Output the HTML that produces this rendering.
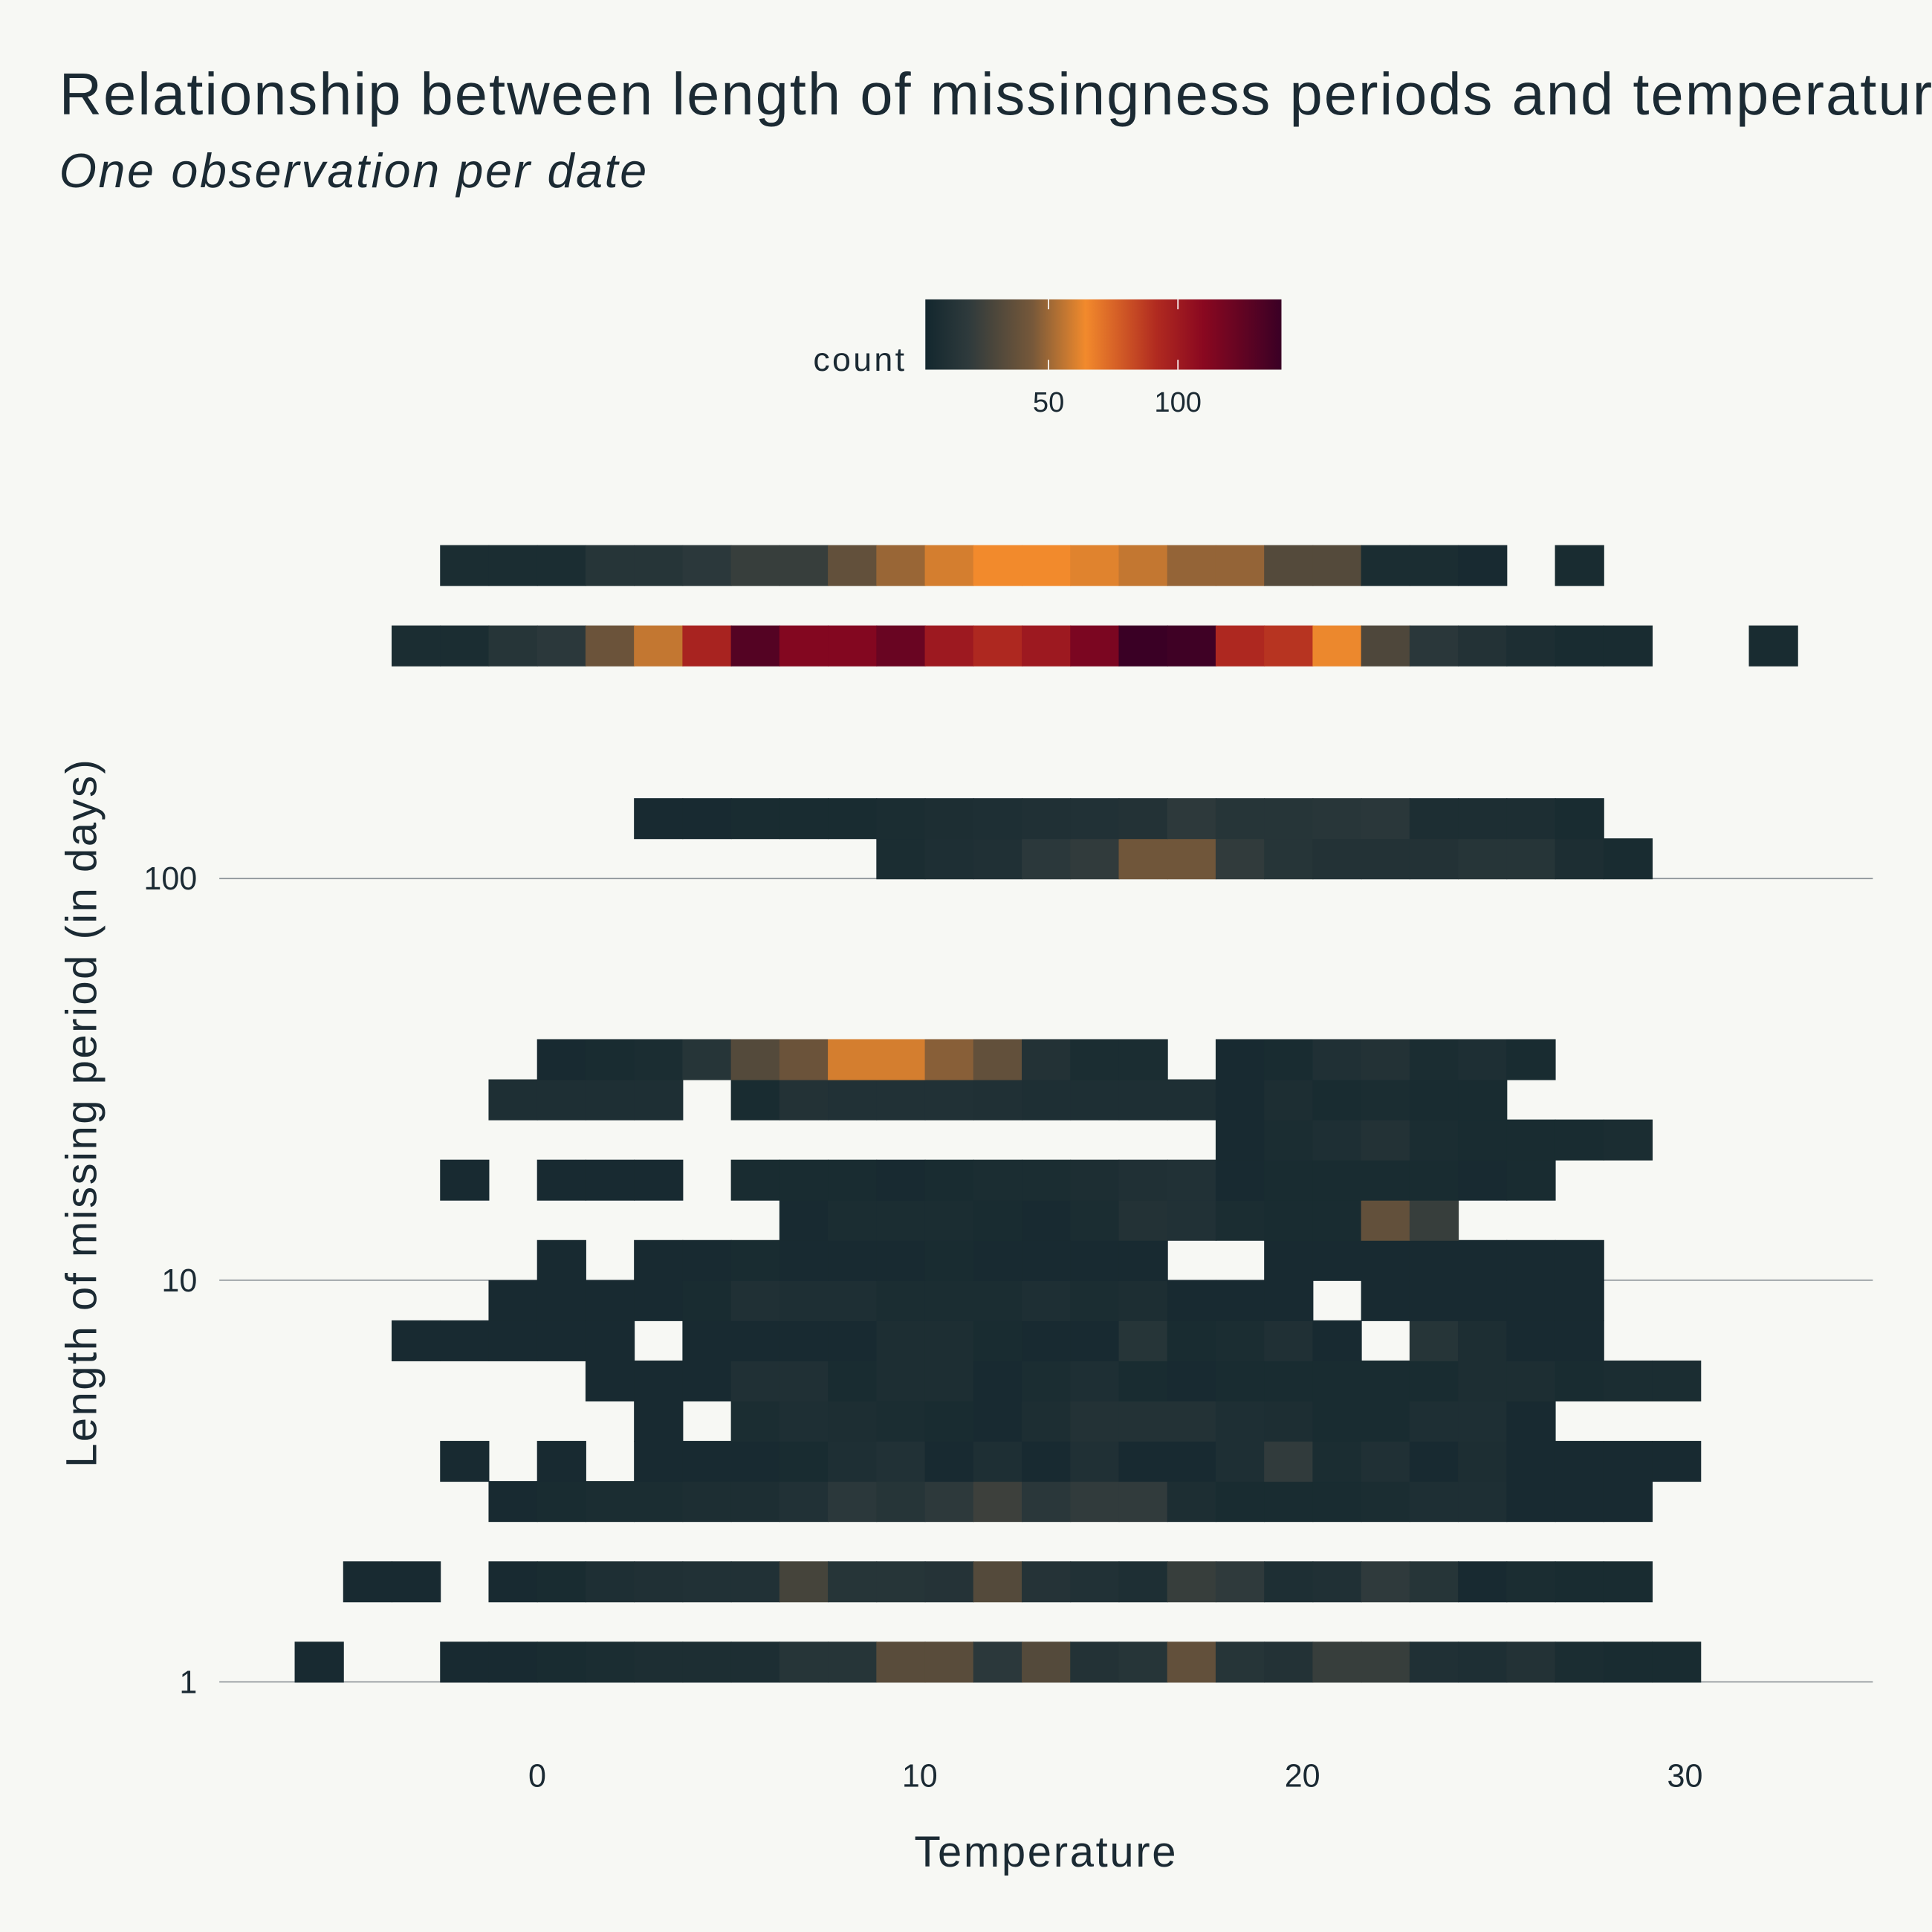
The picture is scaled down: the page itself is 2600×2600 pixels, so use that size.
<!DOCTYPE html>
<html><head><meta charset="utf-8"><style>
html,body{margin:0;padding:0;background:#f7f8f4;}
svg{display:block;}
text{font-family:"Liberation Sans","DejaVu Sans",sans-serif;fill:#1b2a33;}
</style></head><body>
<svg id="chart" width="2600" height="2600" viewBox="0 0 1568 1568" xmlns="http://www.w3.org/2000/svg">
<rect width="1568" height="1568" fill="#f7f8f4"/>
<text x="48" y="93" font-size="48" letter-spacing="1.2">Relationship between length of missingness periods and temperature</text>
<text x="48" y="152" font-size="39" font-style="italic" letter-spacing="1.6">One observation per date</text>
<g id="grid"></g>
<g id="cells"></g>
<g id="axes"></g>
<g id="legend"></g>
<text x="849" y="1515" font-size="35" letter-spacing="1.6" text-anchor="middle">Temperature</text>
<text transform="translate(78,903) rotate(-90)" font-size="35" letter-spacing="1.5" text-anchor="middle">Length of missing period (in days)</text>
</svg>
<script>
// bin edges in temperature: first edge and bin width
const binStart = -6.34;
const binWidth = 1.267;
// log10 lower bound of each row
const rowLogs = [0, 0.2, 0.4, 0.5, 0.6, 0.7, 0.8, 0.9, 1.0, 1.1, 1.2, 1.3, 1.4, 1.5, 2.0, 2.1, 2.53, 2.73];
const rowFirstCol = [0, 1, 4, 3, 7, 6, 2, 4, 5, 10, 3, 19, 4, 5, 12, 7, 2, 3];
const N = null;
const rowValues = [
 [3,N,N,3,3,4,5,6,6,6,12,12,32,32,15,30,10,12,35,12,10,20,20,8,7,10,5,4,4],
 [3,3,N,3,4,7,8,9,9,25,12,12,11,30,11,9,7,20,17,7,8,17,12,3,5,4,4],
 [3,4,5,5,6,6,9,15,12,16,22,14,18,18,6,4,4,4,5,7,7,3,3,3],
 [3,N,3,N,3,3,3,4,7,9,3,7,3,8,3,3,7,18,5,8,3,6,3,3,3,3],
 [3,N,5,7,6,5,4,3,6,10,10,10,7,6,4,4,7,7,3],
 [3,3,3,8,8,4,6,6,3,5,7,4,3,4,4,4,4,4,6,6,4,5,5],
 [3,3,3,3,3,N,3,3,3,3,6,6,4,3,3,12,4,5,8,3,N,12,6,3,3],
 [3,3,3,3,4,8,7,7,5,5,5,7,5,6,3,3,3,N,3,3,3,3,3],
 [3,N,3,3,4,3,3,3,4,3,3,3,3,N,N,3,3,3,3,3,3,3],
 [3,5,5,5,4,3,5,10,9,5,4,4,35,20],
 [3,N,3,3,3,N,4,4,4,3,4,5,5,6,8,9,3,4,4,4,4,3,4],
 [3,5,7,10,5,4,4,4,5],
 [7,7,7,7,N,4,10,9,9,9,8,7,7,7,7,3,6,4,5,4,4],
 [3,4,5,12,30,38,58,58,45,35,10,5,5,N,3,4,8,10,5,7,4],
 [5,7,8,15,18,40,40,18,12,10,10,10,12,12,6,4],
 [3,3,4,4,4,5,6,7,8,9,10,16,12,12,13,14,6,6,6,4],
 [5,5,12,15,38,55,95,130,112,112,122,100,92,100,115,140,138,92,88,62,28,14,10,6,4,4,N,N,4],
 [5,5,5,12,12,15,20,20,35,48,58,63,63,60,55,47,47,30,30,5,5,3,N,4]
];
const xTicks = [0, 10, 20, 30];
const yTicks = [1, 10, 100];
const legendTicks = [50, 100];
const countMax = 140;

const xs = t => 436 + t * 31.05;
const ys = lg => 1365 - lg * 326;
const rowH = 0.1;
const stops = [[0,[19,39,46]],[0.12,[46,58,60]],[0.3,[118,88,58]],[0.45,[242,138,44]],[0.65,[176,42,32]],[0.78,[138,8,32]],[1,[58,0,37]]];
function color(c){
  const t = Math.max(0, Math.min(1, c / countMax));
  for (let i = 1; i < stops.length; i++) {
    if (t <= stops[i][0]) {
      const a = stops[i-1], b = stops[i], f = (t - a[0]) / (b[0] - a[0]);
      return 'rgb(' + a[1].map((v, k) => Math.round(v + (b[1][k] - v) * f)).join(',') + ')';
    }
  }
  return 'rgb(58,0,37)';
}
const NS = 'http://www.w3.org/2000/svg';
function mk(tag, attrs, parent){ const e = document.createElementNS(NS, tag); for (const k in attrs) e.setAttribute(k, attrs[k]); parent.appendChild(e); return e; }

const grid = document.getElementById('grid');
yTicks.forEach(v => {
  const y = ys(Math.log10(v));
  const l = mk('line', {x1:178, x2:1520, y1:y, y2:y, stroke:'#8a9196', 'stroke-width':1}, grid);
  
  
});

const cells = document.getElementById('cells');
rowLogs.forEach((lg, r) => {
  rowValues[r].forEach((v, j) => {
    if (v === null) return;
    const col = rowFirstCol[r] + j;
    const x0 = xs(binStart + col * binWidth), x1 = xs(binStart + (col + 1) * binWidth);
    const y1 = ys(lg), y0 = ys(lg + rowH);
    const rc = mk('rect', {x:x0, y:y0, width:x1 - x0 + 0.6, height:y1 - y0 + 0.6, fill:color(v)}, cells);
    
    
  });
});

const axes = document.getElementById('axes');
xTicks.forEach(v => {
  const t = mk('text', {x:xs(v), y:1450, 'font-size':26, 'text-anchor':'middle'}, axes);
  t.textContent = v;
  
  
});
yTicks.forEach(v => {
  const t = mk('text', {x:160, y:ys(Math.log10(v)) + 9, 'font-size':26, 'text-anchor':'end'}, axes);
  t.textContent = v;
  
  
});

const legend = document.getElementById('legend');
const defs = mk('defs', {}, legend);
const grad = mk('linearGradient', {id:'cg', x1:0, x2:1, y1:0, y2:0}, defs);
stops.forEach(s => mk('stop', {offset:s[0], 'stop-color':'rgb(' + s[1].join(',') + ')'}, grad));
const lx = c => 746 + c * 2.1;
const bar = mk('rect', {x:751, y:243, width:289, height:57, fill:'url(#cg)'}, legend);


legendTicks.forEach(v => {
  const x = lx(v);
  mk('line', {x1:x, x2:x, y1:243, y2:251, stroke:'#fff', 'stroke-width':1}, legend);
  mk('line', {x1:x, x2:x, y1:292, y2:300, stroke:'#fff', 'stroke-width':1}, legend);
  const t = mk('text', {x:x, y:334, 'font-size':23, 'text-anchor':'middle'}, legend);
  t.textContent = v;
  
  
});
const lt = mk('text', {x:736, y:301, 'font-size':27, 'letter-spacing':2, 'text-anchor':'end'}, legend);
lt.textContent = 'count';


</script>
</body></html>
